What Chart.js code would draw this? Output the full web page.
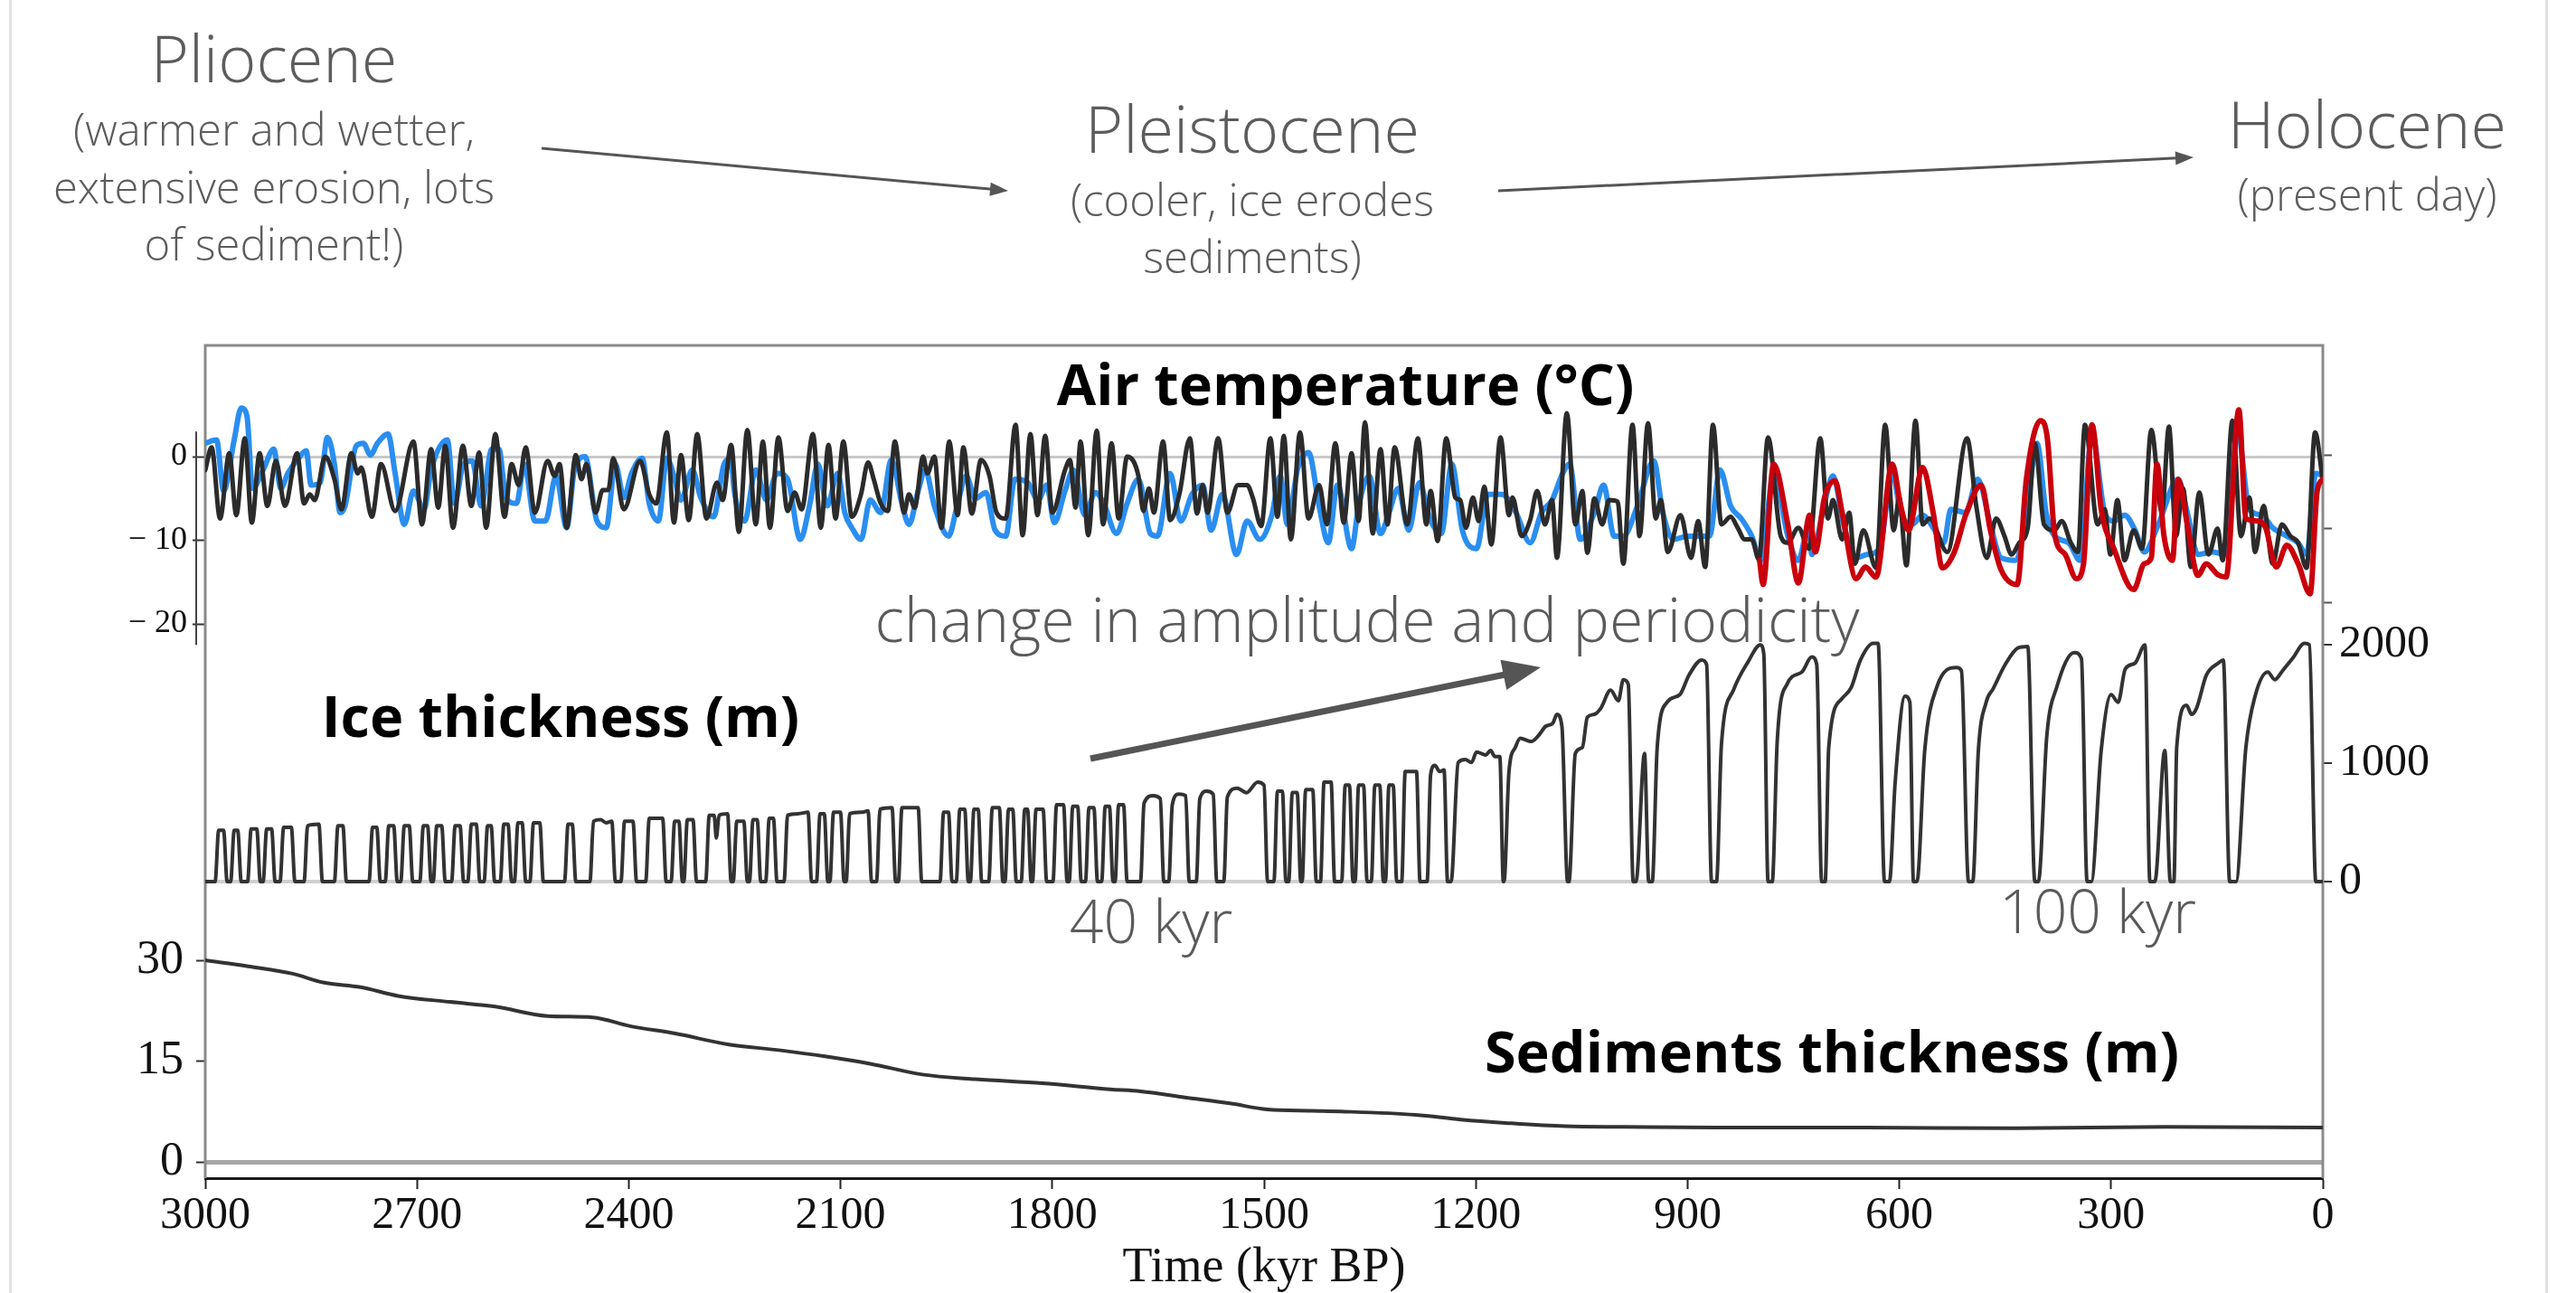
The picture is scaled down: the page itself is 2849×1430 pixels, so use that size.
<!DOCTYPE html>
<html>
<head>
<meta charset="utf-8">
<script src="https://cdn.jsdelivr.net/npm/chart.js@4.4.1/dist/chart.umd.min.js"></script>
<style>
  html, body { margin: 0; padding: 0; background: #fff; }
  #wrap { position: relative; width: 2849px; height: 1430px; overflow: hidden; background: #fff; }
  #chartBox { position: absolute; left: 0; top: 0; width: 2849px; height: 1430px; }
  .lbl { position: absolute; transform: translate(-50%, -50%); white-space: nowrap; line-height: 1; }
  .era { font-family: "Open Sans", sans-serif; font-weight: 300; color: #5c5c5c; }
  .big { font-size: 72px; }
  .sub { font-size: 49px; }
  .note { font-family: "Open Sans", sans-serif; font-weight: 300; color: #5a5a5a; font-size: 68px; }
  .bold { font-family: "Open Sans", sans-serif; font-weight: 700; color: #000; font-size: 63px; }
  .edge { position: absolute; top: 0; width: 3px; height: 1430px; background: #e2e2e2; }
</style>
</head>
<body>
<div id="wrap">
  <div class="edge" style="left:10px"></div>
  <div class="edge" style="left:2815px"></div>
  <div id="chartBox"><canvas id="chart"></canvas></div>
  <svg id="arrows" width="2849" height="1430" style="position:absolute;left:0;top:0"></svg>

  <div class="lbl era big" style="left:303px;top:63px">Pliocene</div>
  <div class="lbl era sub" style="left:303px;top:142px">(warmer and wetter,</div>
  <div class="lbl era sub" style="left:303px;top:206px">extensive erosion, lots</div>
  <div class="lbl era sub" style="left:303px;top:269px">of sediment!)</div>

  <div class="lbl era big" style="left:1385px;top:141px">Pleistocene</div>
  <div class="lbl era sub" style="left:1385px;top:220px">(cooler, ice erodes</div>
  <div class="lbl era sub" style="left:1385px;top:283px">sediments)</div>

  <div class="lbl era big" style="left:2618px;top:136px">Holocene</div>
  <div class="lbl era sub" style="left:2618px;top:214px">(present day)</div>

  <div class="lbl bold" style="left:1488px;top:423px">Air temperature (°C)</div>
  <div class="lbl bold" style="left:620px;top:790px">Ice thickness (m)</div>
  <div class="lbl bold" style="left:2026px;top:1161px">Sediments thickness (m)</div>

  <div class="lbl note" style="left:1512px;top:684px">change in amplitude and periodicity</div>
  <div class="lbl note" style="left:1273px;top:1017px;font-size:66px">40 kyr</div>
  <div class="lbl note" style="left:2320px;top:1006px;font-size:66px">100 kyr</div>
</div>

<script>
// tick values
var timeTicksStep = 300;
var tempTicks = [-20, -10, 0];
var iceTicks = [0, 1000, 2000];
var sedTicks = [0, 15, 30];

// air temperature, model (black) [kyr BP, degC]
var blackTemp = [
  [3000,-1.6],[2991,1.1],[2979,-7.4],[2966,0.4],[2956,-7.0],[2944,2.2],[2934,-7.9],[2923,0.4],[2912,-5.9],[2900,-0.5],
  [2887,-5.9],[2870,0.4],[2860,-5.6],[2852,-4.5],[2845,-5.2],[2830,0.0],[2817,-2.7],[2807,-6.3],[2793,0.4],[2784,-2.0],
  [2779,-1.3],[2764,-7.2],[2751,-0.9],[2731,-6.5],[2705,1.8],[2693,-8.1],[2680,0.9],[2670,-6.1],[2660,1.3],[2649,-8.5],
  [2635,1.3],[2623,-5.9],[2612,0.5],[2602,-8.5],[2589,2.7],[2576,-7.2],[2566,-0.9],[2556,-3.4],[2546,1.1],[2533,-6.7],
  [2515,-0.5],[2505,-2.3],[2498,-0.9],[2488,-8.5],[2475,0.2],[2467,-2.7],[2460,-0.9],[2447,-6.7],[2437,-4.0],[2429,-4.0],
  [2422,-0.2],[2407,-6.3],[2384,-0.5],[2371,-4.5],[2361,-5.6],[2346,2.9],[2336,-7.9],[2326,0.2],[2315,-7.6],[2303,2.7],
  [2290,-7.4],[2275,-3.1],[2267,-5.2],[2255,1.4],[2244,-9.0],
  [2232,3.2],[2220,-8.1],[2210,1.8],[2200,-8.5],[2188,2.3],[2175,-6.5],[2165,-4.3],[2155,-6.3],[2139,2.7],[2128,-8.5],
  [2117,1.4],[2107,-7.4],[2096,1.8],[2084,-7.2],[2071,-4.5],[2061,-0.7],[2053,-2.7],[2043,-5.6],[2033,-6.5],[2023,1.8],
  [2010,-6.7],[2003,-4.5],[1995,-6.1],[1983,0.0],[1977,-2.0],[1967,0.0],[1957,-8.5],[1946,1.8],[1934,-7.0],[1926,1.1],
  [1914,-6.8],[1901,-0.4],[1889,-2.3],[1879,-6.7],[1866,-7.4],[1852,3.8],[1842,-9.4],[1831,2.7],[1821,-7.0],[1810,2.5],
  [1800,-6.7],[1782,-1.6],[1775,-0.4],[1767,-6.1],[1760,1.8],[1749,-9.4],[1737,3.1],[1728,-8.1],[1716,1.6],[1706,-7.4],
  [1694,0.0],[1678,-2.3],[1671,-6.5],[1663,-3.8],[1656,-6.7],[1643,1.8],[1633,-7.6],[1620,-4.5],[1605,2.2],[1595,-6.8],
  [1587,-3.4],[1580,-6.7],[1565,2.2],[1552,-6.7],[1537,-3.4],[1524,-3.4],[1516,-4.9],[1504,-8.3],[1491,2.2],[1481,-7.2],
  [1472,2.5],[1462,-9.9],[1449,2.9],[1437,-7.4],[1422,-3.4],[1411,-8.1],[1399,1.6],[1387,-7.9],[1376,0.4],[1366,-7.7],
  [1357,4.1],[1346,-9.2],[1335,0.9],[1325,-8.1],[1315,1.1],[1297,-8.1],[1282,2.2],[1270,-8.1],[1264,-4.1],[1254,-10.1],
  [1242,2.2],[1229,-4.9],[1222,-5.2],[1214,-8.5],[1204,-4.9],[1196,-7.7],[1188,-3.6],[1178,-10.5],[1165,2.3],[1153,-7.0],
  [1148,-4.9],[1135,-9.5],[1123,-7.6],[1113,-4.1],[1102,-8.1],[1092,-5.2],[1085,-12.1],[1071,5.2],[1059,-8.1],[1049,-4.1],
  [1042,-11.5],[1032,-5.0],[1021,-8.1],[1011,-5.2],[999,-5.4],[991,-12.8],[978,3.8],[968,-9.5],[956,4.0],[945,-7.4],
  [938,-5.2],[928,-11.4],[910,-7.0],[895,-12.1],[885,-7.7],[875,-13.2],[864,3.8],[852,-8.1],[839,-7.2],[829,-8.5],
  [819,-9.9],[809,-9.9],[799,-12.3],[786,2.3],[768,-9.5],[758,-10.3],[743,-8.5],[728,-11.0],[712,2.2],
  [701,-7.4],[694,-5.2],[681,-9.9],[671,-6.7],[663,-12.8],[651,-8.8],[633,-13.3],[620,3.8],[608,-8.8],[600,-4.9],
  [590,-13.0],[577,4.3],[567,-8.1],[557,-7.4],[532,-11.4],[504,2.2],[491,-5.9],[476,-12.1],[463,-7.4],[451,-9.5],
  [441,-11.7],[430,-10.3],[418,-8.5],[408,1.6],[395,-8.1],[380,-8.8],[370,-7.7],[357,-10.3],[347,-11.4],[337,3.8],
  [319,-8.1],[309,-6.3],[301,-11.7],[291,-5.2],[281,-12.4],[268,-8.8],[256,-11.0],[243,3.2],[228,-6.7],[218,3.6],
  [208,-9.5],[198,-3.8],[187,-13.2],[175,-4.3],[162,-11.7],[149,-8.6],[142,-12.4],[128,4.3],[116,-9.5],[104,-4.9],
  [96,-11.4],[84,-5.9],[71,-12.8],[58,-8.1],[46,-9.5],[35,-10.3],[23,-13.3],[11,2.9],[0,-2.9]
];

// air temperature, reconstruction (blue)
var blueTemp = [
  [3000,1.6],[2984,2.0],[2974,-4.1],[2959,2.0],[2949,5.8],[2941,4.9],[2933,-3.8],[2918,-1.6],[2903,0.9],[2893,-3.8],
  [2883,-2.0],[2868,-0.2],[2857,0.7],[2850,-3.4],[2837,-3.1],[2827,2.3],[2817,-0.9],[2809,-6.7],[2802,-5.9],[2786,1.3],
  [2776,1.6],[2766,0.2],[2756,1.6],[2741,2.7],[2731,-2.0],[2718,-8.1],[2705,-4.1],[2690,-6.3],[2680,-1.6],[2657,2.0],
  [2647,-5.6],[2634,-0.9],[2622,-0.5],[2609,-5.9],[2594,0.9],[2584,0.9],[2574,-4.9],[2559,-5.6],[2548,-0.9],[2533,-7.7],
  [2518,-7.7],[2503,-2.3],[2488,-8.5],[2477,-1.6],[2462,0.0],[2445,-7.7],[2432,-8.5],[2419,-0.9],[2407,-4.9],[2396,-2.0],
  [2381,-0.2],[2371,-5.6],[2358,-7.7],[2346,-0.2],[2336,-2.3],[2326,-5.2],[2310,-1.6],[2298,-4.9],[2280,-7.2],[2265,-0.9],
  [2255,-0.2],[2251,-3.8],[2236,-7.7],[2220,-1.6],[2205,-5.2],[2190,-2.0],[2175,-2.7],[2157,-9.9],[2144,-5.9],[2132,-0.9],
  [2119,-5.9],[2104,-2.0],[2094,-6.7],[2084,-8.5],[2071,-9.9],[2058,-5.2],[2043,-6.7],[2028,-0.4],[2013,-5.6],[2003,-8.1],
  [1990,-4.1],[1980,-1.6],[1967,-5.9],[1947,-9.5],[1934,-5.6],[1922,-2.3],[1909,-5.0],[1894,-4.3],[1881,-8.8],[1866,-9.5],
  [1853,-2.7],[1835,-3.1],[1820,-5.2],[1808,-3.4],[1797,-7.9],[1782,-4.1],[1770,-1.6],[1754,-7.0],[1739,-4.3],[1727,-5.6],
  [1709,-9.2],[1694,-5.6],[1678,-2.7],[1661,-9.2],[1651,-9.5],[1633,-2.0],[1618,-7.7],[1602,-4.5],[1587,-3.4],[1575,-8.8],
  [1559,-4.5],[1539,-11.7],[1524,-7.7],[1506,-9.9],[1489,-7.0],
  [1477,-2.3],[1467,-8.1],[1452,-1.3],[1437,0.5],[1422,-5.9],[1409,-10.3],[1396,-3.4],[1376,-11.0],[1366,-5.9],[1351,-2.3],
  [1335,-9.2],[1323,-6.7],[1310,-3.8],[1295,-8.8],[1280,-3.1],[1265,-7.4],[1249,-9.2],[1234,-0.9],[1219,-8.8],[1199,-11.0],
  [1183,-4.5],[1163,-4.5],[1143,-6.7],[1123,-10.3],[1107,-6.7],[1092,-5.2],[1077,-2.0],[1067,-0.9],[1052,-9.9],[1032,-6.7],
  [1019,-3.4],[1004,-9.5],[991,-9.5],[971,-5.9],[948,-0.5],[935,-6.7],[920,-9.9],[900,-9.5],[869,-9.5],[854,-1.6],
  [839,-5.9],[824,-7.4],[809,-9.5],[796,-12.4],[778,-2.0],[758,-9.5],[743,-12.4],[728,-8.1],
  [724,-11.7],[706,-5.6],[694,-2.3],[679,-8.1],[661,-12.1],[646,-11.7],[628,-11.0],[610,-2.0],[598,-6.7],[582,-8.1],
  [567,-7.0],[552,-8.5],[537,-10.3],[527,-6.3],[506,-6.7],[489,-2.7],[471,-8.1],[456,-12.1],[436,-12.4],[420,-7.0],
  [405,1.6],[392,-6.7],[380,-9.5],[360,-10.3],[344,-12.4],[327,2.7],[309,-6.7],[296,-7.7],[281,-7.0],[266,-8.8],
  [253,-11.4],[233,-8.1],[205,-2.7],[192,-6.7],[177,-11.7],[157,-11.4],[137,-11.7],[121,3.1],[104,-6.3],[86,-7.0],
  [71,-8.5],[51,-9.5],[35,-10.3],[23,-11.7],[10,-2.0],[0,-2.3]
];

// air temperature, ice core record (red), last 800 kyr
var redTemp = [
  [798,-12.4],[793,-15.3],[778,-0.9],[758,-8.1],[743,-15.1],[727,-7.0],[719,-11.4],[706,-4.9],[691,-2.9],[681,-6.7],
  [661,-14.6],[648,-13.2],[633,-14.4],[610,-0.9],[598,-5.9],[587,-8.8],[567,-1.3],[552,-6.7],[539,-13.3],[522,-11.4],
  [506,-7.0],[484,-3.4],[471,-8.8],[456,-13.5],[433,-15.3],[420,-2.7],[400,4.3],[390,2.0],[380,-9.2],[365,-11.7],
  [349,-14.6],[339,-12.8],[327,3.8],[314,-6.3],[296,-11.0],[268,-15.9],[253,-12.8],[243,-12.1],[235,-0.9],[225,-9.5],
  [213,-12.4],[205,-2.7],[192,-8.1],[177,-14.2],[165,-12.8],[149,-14.1],[137,-14.4],[119,5.6],[109,-7.4],[91,-7.7],
  [81,-8.5],[66,-13.2],[51,-10.6],[35,-12.8],[18,-16.4],[8,-4.1],[0,-2.7]
];

// ice thickness [kyr BP, m]
var iceThickness = [
  [3000,0],[2986,0],[2981,433],[2974,433],[2969,0],[2964,0],[2959,433],[2954,433],[2949,0],
  [2940,0],[2935,445],[2927,445],[2922,0],[2918,0],[2913,445],[2906,445],[2901,0],
  [2894,0],[2889,458],[2878,458],[2873,0],[2860,0],[2855,471],[2839,484],[2834,0],
  [2817,0],[2812,471],[2805,471],[2800,0],[2768,0],[2763,458],[2757,458],[2752,0],
  [2745,0],[2740,471],[2733,471],[2728,0],[2723,0],[2718,471],[2711,471],[2706,0],
  [2696,0],[2691,471],[2685,471],[2680,0],[2677,0],[2672,471],[2665,471],[2660,0],
  [2651,0],[2646,471],[2639,471],[2634,0],[2628,0],[2623,484],[2616,484],[2611,0],
  [2605,0],[2600,471],[2595,471],[2590,0],[2582,0],[2577,484],[2571,484],[2566,0],
  [2562,0],[2557,496],[2551,496],[2546,0],[2540,0],[2535,496],[2526,496],[2521,0],
  [2491,0],[2486,484],[2480,484],[2475,0],[2455,0],[2450,509],[2440,522],[2432,496],[2424,509],[2419,0],
  [2411,0],[2406,509],[2394,509],[2389,0],[2376,0],[2371,534],[2352,534],[2347,0],
  [2340,0],[2335,509],[2329,509],[2324,0],[2322,0],[2317,522],[2309,522],[2304,0],
  [2291,0],[2286,560],[2279,560],[2276,369],[2272,560],[2260,573],[2255,0],
  [2252,0],[2247,509],[2237,509],[2232,0],[2229,0],[2224,522],[2218,522],[2213,0],
  [2206,0],[2201,534],[2195,534],[2190,0],[2180,0],[2175,560],[2160,573],[2146,585],[2141,0],
  [2134,0],[2129,573],[2123,573],[2118,0],[2115,0],[2110,585],[2100,585],[2095,0],
  [2092,0],[2087,573],[2070,585],[2061,598],[2056,0],[2049,0],[2044,611],[2027,624],[2022,0],
  [2018,0],[2013,624],[1990,624],[1985,0],[1959,0],[1954,585],[1947,585],[1942,0],
  [1936,0],[1931,611],[1924,611],[1919,0],[1916,0],[1911,611],[1905,611],[1900,0],
  [1890,0],[1885,624],[1875,624],[1870,0],[1867,0],[1862,611],[1856,611],[1851,0],
  [1844,0],[1839,611],[1835,611],[1830,0],[1828,0],[1823,611],[1813,611],[1808,0],
  [1799,0],[1794,649],[1784,649],[1779,0],[1776,0],[1771,636],[1764,636],[1759,0],
  [1753,0],[1748,624],[1741,624],[1736,0],[1730,0],[1725,636],[1719,636],[1714,0],
  [1711,0],[1706,649],[1699,649],[1694,0],[1675,0],[1670,662],[1657,725],[1647,700],[1642,0],
  [1635,0],[1630,649],[1621,738],[1611,725],[1606,0],[1596,0],[1591,700],[1581,764],[1572,738],[1567,0],
  [1557,0],[1552,713],[1538,789],[1525,750],[1509,840],[1500,814],[1495,0],
  [1486,0],[1481,764],[1474,764],[1469,0],[1465,0],[1460,751],[1453,751],[1448,0],
  [1446,0],[1441,776],[1431,776],[1426,0],[1420,0],[1415,840],[1405,840],[1400,0],
  [1390,0],[1385,814],[1379,814],[1374,0],[1371,0],[1366,814],[1359,814],[1354,0],
  [1348,0],[1343,814],[1336,814],[1331,0],[1328,0],[1323,814],[1317,814],[1312,0],
  [1305,0],[1300,929],[1284,929],[1279,0],[1269,0],[1264,903],[1258,980],[1251,929],[1245,942],[1240,0],
  [1235,0],[1225,1005],[1215,1031],[1206,1005],[1199,1094],[1186,1069],[1179,1107],[1173,1056],[1166,1056],[1161,0],
  [1160,0],[1153,929],[1144,1133],[1137,1209],[1121,1183],[1111,1234],[1101,1311],[1091,1336],[1085,1412],[1078,1311],[1070,0],
  [1068,0],[1059,1082],[1049,1133],[1042,1387],[1032,1412],[1023,1463],[1009,1616],[998,1527],[991,1705],[984,1667],[977,0],
  [973,0],[961,1082],[955,0],[950,0],[943,1133],[929,1514],[911,1578],[898,1743],[880,1871],[873,1832],[866,0],
  [859,0],[852,1158],[835,1616],[814,1858],[797,1998],[792,1921],[786,0],
  [780,0],[773,1183],[759,1667],[738,1769],[724,1896],[717,1832],[710,0],
  [705,0],[700,1133],[682,1540],[668,1641],[655,1871],[637,2011],[630,2011],[621,0],
  [614,0],[606,827],[592,1565],[585,1514],[580,0],
  [575,0],[564,1107],[547,1641],[519,1807],[512,1781],[502,0],
  [496,0],[488,1107],[477,1514],[467,1629],[450,1832],[432,1972],[418,1985],[408,0],
  [403,0],[391,1234],[377,1641],[352,1934],[342,1883],[334,0],
  [328,0],[314,1107],[300,1578],[290,1514],[280,1794],[266,1845],[252,1998],[245,0],
  [238,0],[224,1107],[216,0],[211,0],
  [207,1133],[193,1489],[186,1412],[179,1463],[165,1743],[148,1845],[141,1871],[132,0],
  [123,0],[109,1133],[96,1565],[78,1769],[68,1705],[57,1781],[43,1883],[26,2011],[19,1998],[10,0],[0,0]
];

// sediments thickness [kyr BP, m]
var sedimentThickness = [
  [3000,30.0],[2939,29.1],[2876,28.0],[2833,26.7],[2780,26.0],[2727,24.7],[2653,23.8],[2589,23.1],[2515,21.7],[2451,21.5],
  [2398,20.2],[2334,19.1],[2260,17.5],[2185,16.6],[2122,15.7],[2058,14.6],[1984,13.0],[1909,12.3],[1814,11.7],[1718,10.8],
  [1675,10.5],[1612,9.6],[1548,8.7],[1495,7.8],[1433,7.6],[1391,7.5],[1285,7.0],[1221,6.3],[1158,5.8],[1073,5.3],
  [988,5.2],[860,5.1],[648,5.1],[435,5.0],[223,5.2],[0,5.1]
];

function toXY(pairs) {
  return pairs.map(function (p) { return { x: p[0], y: p[1] }; });
}

var serif = '"Liberation Serif", "DejaVu Serif", serif';

// frame around the plot (top, left, right) plus the short spine of the temperature axis
var framePlugin = {
  id: 'frame',
  beforeDatasetsDraw: function (chart) {
    var ctx = chart.ctx, a = chart.chartArea, t = chart.scales.yTemp;
    ctx.save();
    ctx.strokeStyle = '#8a8a8a';
    ctx.lineWidth = 3;
    ctx.beginPath();
    ctx.moveTo(a.left, a.bottom);
    ctx.lineTo(a.left, a.top);
    ctx.lineTo(a.right, a.top);
    ctx.lineTo(a.right, a.bottom);
    ctx.stroke();
    ctx.strokeStyle = '#444';
    ctx.lineWidth = 2;
    ctx.beginPath();
    ctx.moveTo(a.left - 10, t.getPixelForValue(3));
    ctx.lineTo(a.left - 10, t.getPixelForValue(-22.5));
    ctx.stroke();
    ctx.restore();
  }
};

function fixedTicks(list) {
  return function (scale) {
    scale.ticks = list.map(function (v) { return { value: v }; });
  };
}

function zeroLine(color) {
  return function (c) {
    return c.tick && c.tick.value === 0 ? color : 'rgba(0,0,0,0)';
  };
}

var chart = new Chart(document.getElementById('chart'), {
  type: 'line',
  data: {
    datasets: [
      { label: 'Air temperature, ice core', data: toXY(redTemp), borderColor: '#c9000b', borderWidth: 6, yAxisID: 'yTemp', order: 0 },
      { label: 'Air temperature, model', data: toXY(blackTemp), borderColor: '#2b2b2b', borderWidth: 5, yAxisID: 'yTemp', order: 1 },
      { label: 'Air temperature, reconstruction', data: toXY(blueTemp), borderColor: '#2a8ef0', borderWidth: 6, yAxisID: 'yTemp', order: 2 },
      { label: 'Ice thickness', data: toXY(iceThickness), borderColor: '#333333', borderWidth: 4, yAxisID: 'yIce', order: 1 },
      { label: 'Sediments thickness', data: toXY(sedimentThickness), borderColor: '#333333', borderWidth: 4, yAxisID: 'ySed', order: 1 }
    ]
  },
  options: {
    responsive: true,
    maintainAspectRatio: false,
    animation: false,
    devicePixelRatio: 1,
    layout: { padding: { top: 382, left: 0, right: 0, bottom: 0 } },
    plugins: { legend: { display: false }, tooltip: { enabled: false } },
    elements: {
      point: { radius: 0 },
      line: { cubicInterpolationMode: 'monotone', borderJoinStyle: 'round', borderCapStyle: 'round', fill: false }
    },
    scales: {
      x: {
        type: 'linear', position: 'bottom', min: 0, max: 3000, reverse: true, bounds: 'data',
        afterFit: function (s) { s.height = 127; },
        ticks: {
          stepSize: timeTicksStep, autoSkip: false, maxRotation: 0, padding: 5, color: '#111',
          font: { family: serif, size: 50, lineHeight: 1 },
          callback: function (v) { return String(v); }
        },
        grid: { drawOnChartArea: false, tickLength: 12, tickColor: '#222', tickWidth: 2 },
        border: { display: true, color: '#1a1a1a', width: 3 },
        title: { display: true, text: 'Time (kyr BP)', color: '#111', font: { family: serif, size: 54, lineHeight: 1 }, padding: { top: 0, bottom: 0 } }
      },
      yTemp: {
        type: 'linear', position: 'left', weight: 2, min: -86.27, max: 13.3, bounds: 'data',
        afterFit: function (s) { s.width = 227; },
        afterBuildTicks: fixedTicks(tempTicks),
        ticks: {
          color: '#111', padding: 6, font: { family: serif, size: 36 },
          callback: function (v) { return v < 0 ? '\u2212 ' + (-v) : String(v); }
        },
        grid: { color: zeroLine('#c9c9c9'), lineWidth: 3, tickLength: 14, tickColor: '#333', tickWidth: 2 },
        border: { display: false }
      },
      ySed: {
        type: 'linear', position: 'left', weight: 1, min: -2.42, max: 121.48, bounds: 'data',
        afterFit: function (s) { s.width = 0; },
        afterBuildTicks: fixedTicks(sedTicks),
        // mirrored labels are not clipped to the (zero-width) axis box; shift them back to the left
        ticks: { mirror: true, crossAlign: 'far', padding: -76, color: '#111', font: { family: serif, size: 52 }, callback: function (v) { return String(v); } },
        grid: { color: zeroLine('#a6a6a6'), lineWidth: 5, tickLength: 10, tickColor: '#333', tickWidth: 2 },
        border: { display: false }
      },
      yTempR: {
        type: 'linear', position: 'right', weight: 1, min: -98.16, max: 14.85, bounds: 'data',
        afterFit: function (s) { s.width = 0; },
        afterBuildTicks: fixedTicks(tempTicks),
        ticks: { padding: 0, callback: function () { return ''; } },
        grid: { drawOnChartArea: false, tickLength: 10, tickColor: '#555', tickWidth: 2 },
        border: { display: false }
      },
      yIce: {
        type: 'linear', position: 'right', weight: 2, min: -2503.8, max: 4526.7, bounds: 'data',
        afterFit: function (s) { s.width = 280; },
        afterBuildTicks: fixedTicks(iceTicks),
        ticks: { color: '#111', padding: 8, font: { family: serif, size: 50 }, callback: function (v) { return String(v); } },
        grid: { color: zeroLine('#d0d0d0'), lineWidth: 4, tickLength: 10, tickColor: '#333', tickWidth: 2 },
        border: { display: false }
      }
    }
  },
  plugins: [framePlugin]
});

// annotation arrows
var svgNS = 'http://www.w3.org/2000/svg';
var svg = document.getElementById('arrows');
function arrow(x1, y1, x2, y2, w, hl, hw, color) {
  var dx = x2 - x1, dy = y2 - y1, L = Math.hypot(dx, dy), ux = dx / L, uy = dy / L;
  var bx = x2 - ux * hl, by = y2 - uy * hl;
  var line = document.createElementNS(svgNS, 'line');
  line.setAttribute('x1', x1); line.setAttribute('y1', y1);
  line.setAttribute('x2', bx + ux * 2); line.setAttribute('y2', by + uy * 2);
  line.setAttribute('stroke', color); line.setAttribute('stroke-width', w);
  svg.appendChild(line);
  var head = document.createElementNS(svgNS, 'polygon');
  head.setAttribute('points', [x2, y2, bx - uy * hw / 2, by + ux * hw / 2, bx + uy * hw / 2, by - ux * hw / 2].join(' '));
  head.setAttribute('fill', color);
  svg.appendChild(head);
}
arrow(599, 164, 1115, 211, 3, 20, 15, '#555');
arrow(1657, 211, 2426, 174, 3, 20, 15, '#555');
arrow(1206, 839, 1704, 738, 7, 42, 34, '#555');
</script>
</body>
</html>
